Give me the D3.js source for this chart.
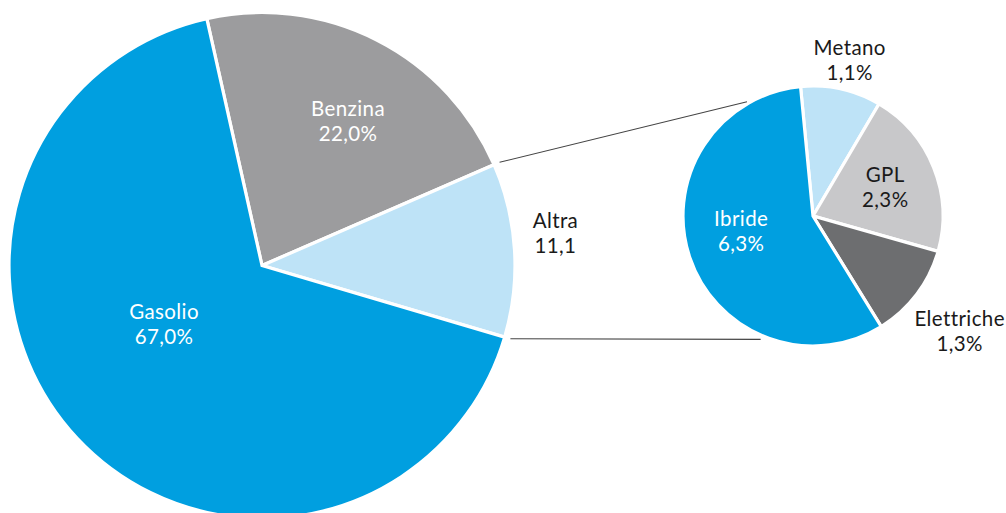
<!DOCTYPE html>
<html><head><meta charset="utf-8">
<script src="https://cdn.jsdelivr.net/npm/d3@7"></script>
<style>html,body{margin:0;padding:0;background:#fff;}svg{display:block;}</style>
</head><body>
<svg id="chart" width="1006" height="513"></svg>
<script>
// Main pie
const mainCategories = ["Benzina", "Altra", "Gasolio"];
const mainValues = [22.0, 11.1, 67.0];
const mainLabels = ["22,0%", "11,1", "67,0%"];
const mainColors = ["#9c9c9e", "#bee3f7", "#009fe0"];
const mainTextColors = ["#ffffff", "#1a1a1a", "#ffffff"];

// Detail pie (breakdown of "Altra")
const subCategories = ["Metano", "GPL", "Elettriche", "Ibride"];
const subValues = [1.1, 2.3, 1.3, 6.3];
const subLabels = ["1,1%", "2,3%", "1,3%", "6,3%"];
const subColors = ["#bee3f7", "#c8c8ca", "#6d6e70", "#009fe0"];
const subTextColors = ["#1a1a1a", "#1a1a1a", "#1a1a1a", "#ffffff"];

const deg = Math.PI / 180;
const svg = d3.select("#chart");
const FONT = "Lato, 'Open Sans', sans-serif";

const main = { cx: 262, cy: 265.5, r: 253, start: -12.6 * deg };
const sub = { cx: 813, cy: 216, r: 130, start: -5.5 * deg };

function drawPie(cfg, cats, vals, labels, colors, tcolors, labelCfg) {
  const pie = d3.pie().sort(null).value(d => d.v)
    .startAngle(cfg.start).endAngle(cfg.start + 2 * Math.PI);
  const data = cats.map((c, i) => ({ c, v: vals[i], l: labels[i], col: colors[i], tc: tcolors[i], i }));
  const arcs = pie(data);
  const arc = d3.arc().innerRadius(0).outerRadius(cfg.r);
  const g = svg.append("g").attr("transform", `translate(${cfg.cx},${cfg.cy})`);
  g.selectAll("path").data(arcs).join("path")
    .attr("d", arc)
    .attr("fill", d => d.data.col)
    .attr("stroke", "#fff")
    .attr("stroke-width", 3.2)
    .attr("stroke-linejoin", "miter");
  const txt = g.selectAll("text.lbl").data(arcs).join("text").attr("class", "lbl")
    .attr("transform", d => {
      const lc = labelCfg[d.data.i];
      const la = d3.arc().innerRadius(lc.r).outerRadius(lc.r);
      const [x, y] = la.centroid(d);
      return `translate(${x + lc.dx},${y + lc.dy})`;
    })
    .attr("text-anchor", "middle")
    .attr("font-family", FONT).attr("font-size", 20.5)
    .attr("letter-spacing", 0.4)
    .attr("fill", d => d.data.tc);
  txt.append("tspan").attr("x", 0).attr("y", -4.5).text(d => d.data.c);
  txt.append("tspan").attr("x", 0).attr("y", 20.5).text(d => d.data.l);
  return arcs;
}

const mainArcs = drawPie(main, mainCategories, mainValues, mainLabels, mainColors, mainTextColors, [
  { r: 150, dx: 18, dy: -11 },
  { r: 295, dx: -1, dy: -15 },
  { r: 130, dx: -3, dy: -31 }
]);
drawPie(sub, subCategories, subValues, subLabels, subColors, subTextColors, [
  { r: 160, dx: 2, dy: 0 },
  { r: 80, dx: -2, dy: 0 },
  { r: 185, dx: -1, dy: 3 },
  { r: 80, dx: 4, dy: -11 }
]);

// Connector lines from the "Altra" slice edges to the detail pie
const altra = mainArcs[1];
function pt(cx, cy, r, a) { return [cx + r * Math.sin(a), cy - r * Math.cos(a)]; }
const connectors = [
  [pt(main.cx, main.cy, main.r + 6, altra.startAngle), pt(sub.cx, sub.cy, sub.r + 2, -30 * deg)],
  [pt(main.cx, main.cy, main.r + 6, altra.endAngle), pt(sub.cx, sub.cy, sub.r + 4, -157 * deg)]
];
svg.selectAll("line.conn").data(connectors).join("line").attr("class", "conn")
  .attr("x1", d => d[0][0]).attr("y1", d => d[0][1])
  .attr("x2", d => d[1][0]).attr("y2", d => d[1][1])
  .attr("stroke", "#444").attr("stroke-width", 1.1);
</script>
</body></html>
